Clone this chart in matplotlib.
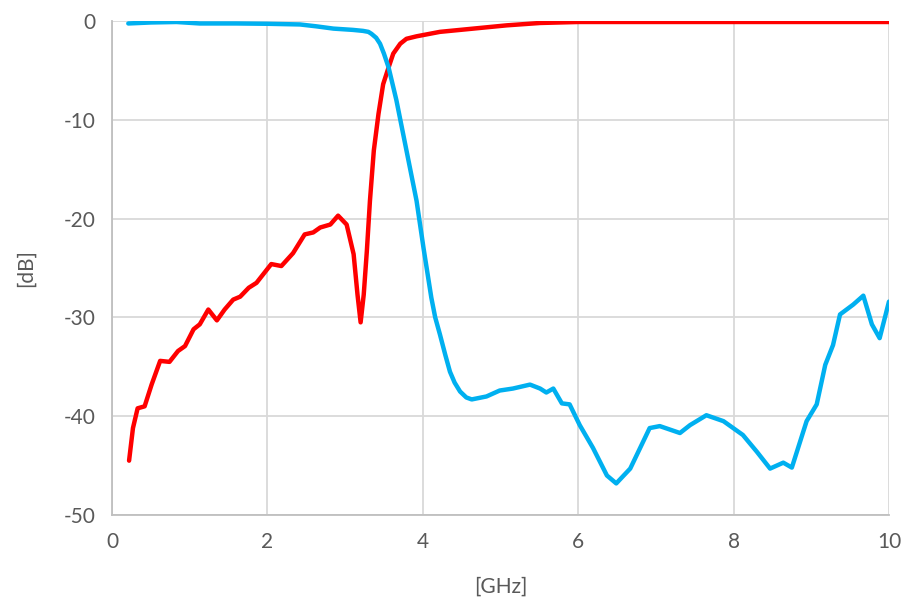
import matplotlib.pyplot as plt
import numpy as np

# S21 (transmission), blue
s21_f = [0.21, 0.5, 0.83, 1.13, 1.6, 1.99, 2.42, 2.63, 2.85, 3.1, 3.23, 3.3,
         3.34, 3.40, 3.45, 3.50, 3.56, 3.66, 3.79, 3.92, 4.01, 4.05, 4.11,
         4.16, 4.22, 4.29, 4.35, 4.41, 4.48, 4.56, 4.63, 4.82, 4.99, 5.16,
         5.38, 5.51, 5.59, 5.68, 5.79, 5.89, 6.02, 6.19, 6.37, 6.49, 6.67,
         6.92, 7.05, 7.31, 7.44, 7.65, 7.87, 8.12, 8.30, 8.47, 8.64, 8.75,
         8.94, 9.07, 9.18, 9.28, 9.37, 9.54, 9.67, 9.78, 9.88, 10.0]
s21_db = [-0.25, -0.15, -0.1, -0.25, -0.25, -0.28, -0.35, -0.54, -0.77, -0.9,
          -1.0, -1.1, -1.3, -1.7, -2.3, -3.3, -4.7, -8.0, -13.1, -18.2,
          -23.0, -25.0, -28.0, -30.0, -31.7, -33.8, -35.5, -36.6, -37.5,
          -38.1, -38.3, -38.0, -37.4, -37.2, -36.8, -37.2, -37.6, -37.2,
          -38.7, -38.8, -40.9, -43.2, -46.0, -46.8, -45.3, -41.2, -41.0,
          -41.7, -40.9, -39.9, -40.5, -41.9, -43.6, -45.3, -44.7, -45.2,
          -40.5, -38.8, -34.8, -32.8, -29.7, -28.7, -27.8, -30.7, -32.1,
          -28.4]

# S11 (reflection), red
s11_f = [0.22, 0.27, 0.33, 0.42, 0.51, 0.62, 0.74, 0.85, 0.94, 1.05, 1.13,
         1.24, 1.35, 1.45, 1.56, 1.65, 1.76, 1.86, 2.05, 2.18, 2.33, 2.48,
         2.59, 2.68, 2.81, 2.91, 3.02, 3.11, 3.16, 3.20, 3.24, 3.28, 3.32,
         3.37, 3.43, 3.49, 3.56, 3.62, 3.71, 3.79, 3.92, 4.22, 4.65, 5.08,
         5.51, 6.0, 8.0, 10.0]
s11_db = [-44.5, -41.2, -39.2, -39.0, -36.8, -34.4, -34.5, -33.4, -32.9,
          -31.2, -30.7, -29.2, -30.3, -29.2, -28.2, -27.9, -27.0, -26.5,
          -24.6, -24.8, -23.5, -21.6, -21.4, -20.9, -20.6, -19.7, -20.6,
          -23.6, -27.7, -30.5, -27.7, -23.3, -18.2, -13.1, -9.4, -6.4, -4.7,
          -3.3, -2.3, -1.8, -1.55, -1.1, -0.77, -0.44, -0.2, -0.1, -0.1,
          -0.1]

x_ticks = [0, 2, 4, 6, 8, 10]
y_ticks = [0, -10, -20, -30, -40, -50]

plt.rcParams['font.family'] = ['Lato', 'DejaVu Sans']
plt.rcParams['axes.unicode_minus'] = False

fig = plt.figure(figsize=(9.06, 6.14), dpi=100)
ax = fig.add_axes([0.1236, 0.1612, 0.8576, 0.8046])

ax.plot(s11_f, s11_db, color='#FF0000', lw=3.2, solid_joinstyle='round',
        solid_capstyle='round', zorder=3)
ax.plot(s21_f, s21_db, color='#00B0F0', lw=3.2, solid_joinstyle='round',
        solid_capstyle='round', zorder=3)

ax.set_xlim(0, 10)
ax.set_ylim(-50, 0)
ax.set_xticks(x_ticks)
ax.set_yticks(y_ticks)
ax.grid(True, color='#d9d9d9', lw=1.3)
ax.set_axisbelow(True)
ax.tick_params(length=0, labelsize=15, labelcolor='#595959', pad=12)
for s in ['top', 'right']:
    ax.spines[s].set_visible(False)
for s in ['left', 'bottom']:
    ax.spines[s].set_color('#bfbfbf')
    ax.spines[s].set_linewidth(1.3)

ax.set_xlabel('[GHz]', fontsize=15, color='#595959', labelpad=18)
ax.set_ylabel('[dB]', fontsize=15, color='#595959', labelpad=20)

fig.savefig('out.png', dpi=100)
